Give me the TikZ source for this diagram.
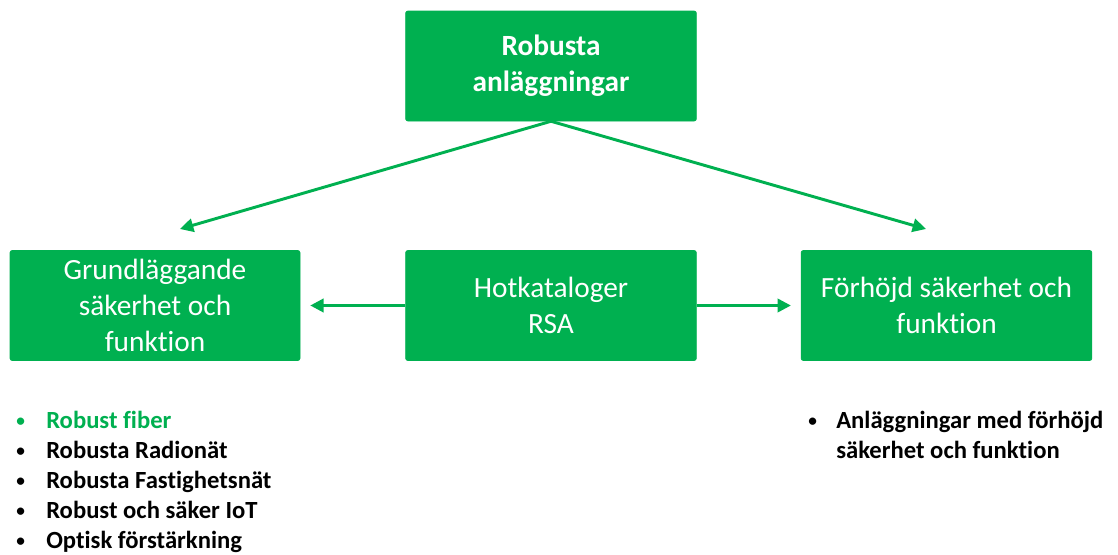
\documentclass[tikz,border=0pt]{standalone}
\usepackage{fontspec}
\setmainfont{Carlito}[Ligatures={NoCommon}]
\usepackage{xcolor}
\usepackage{tikz}
\usetikzlibrary{arrows.meta,positioning,calc}
\definecolor{rsagreen}{HTML}{00B050}

\tikzset{
  box/.style={rectangle, fill=rsagreen, draw=rsagreen, rounded corners=1.5pt, text=white, align=center,
    minimum width=218pt, minimum height=82.5pt, inner sep=0pt, font=\fontsize{22}{27}\selectfont},
  link/.style={draw=rsagreen, line width=2.2pt, -{Triangle[length=10pt,width=10pt]}},
  list/.style={anchor=north west, inner sep=0pt, font=\bfseries\fontsize{18.5}{22.5}\selectfont}
}
\newcommand{\bul}{\makebox[22.5pt][l]{\raisebox{0.15ex}{\scalebox{0.7}{\textbullet}}}}

\begin{document}
\begin{tikzpicture}[x=0.75pt,y=-0.75pt]
			\useasboundingbox (0,0) rectangle (1118,554);
			\node at (551,66) [box, font=\bfseries\fontsize{22}{27}\selectfont] (top) {Robusta\\anläggningar};
			\node at (155,305.5) [box, minimum width=217.5pt] (basic) {Grundläggande\\säkerhet och\\funktion};
			\node at (551,305.5) [box] (cat) {Hotkataloger\\RSA};
			\node at (946.5,305.5) [box] (high) {Förhöjd säkerhet och\\funktion};
			\coordinate (tipL) at (180,229);
			\coordinate (tipR) at (926,229);
			\draw[link] (top.south) -- (tipL);
			\draw[link] (top.south) -- (tipR);
			\draw[link] (cat.west) -- ($(basic.east)+(10,0)$);
			\draw[link] (cat.east) -- ($(high.west)+(-10,0)$);
			\node at (16,407) [list] (basiclist) {\begin{tabular}{@{}l@{}l@{}}
				\color{rsagreen}\bul & \color{rsagreen}Robust fiber\\
				\bul & Robusta Radionät\\
				\bul & Robusta Fastighetsnät\\
				\bul & Robust och säker IoT\\
				\bul & Optisk förstärkning
			\end{tabular}};
			\node at (808,407) [list] (highlist) {\begin{tabular}{@{}l@{}l@{}}
				\makebox[21pt][l]{\raisebox{0.15ex}{\scalebox{0.7}{\textbullet}}} & Anläggningar med förhöjd\\
				& säkerhet och funktion
			\end{tabular}};
		\end{tikzpicture}
\end{document}
